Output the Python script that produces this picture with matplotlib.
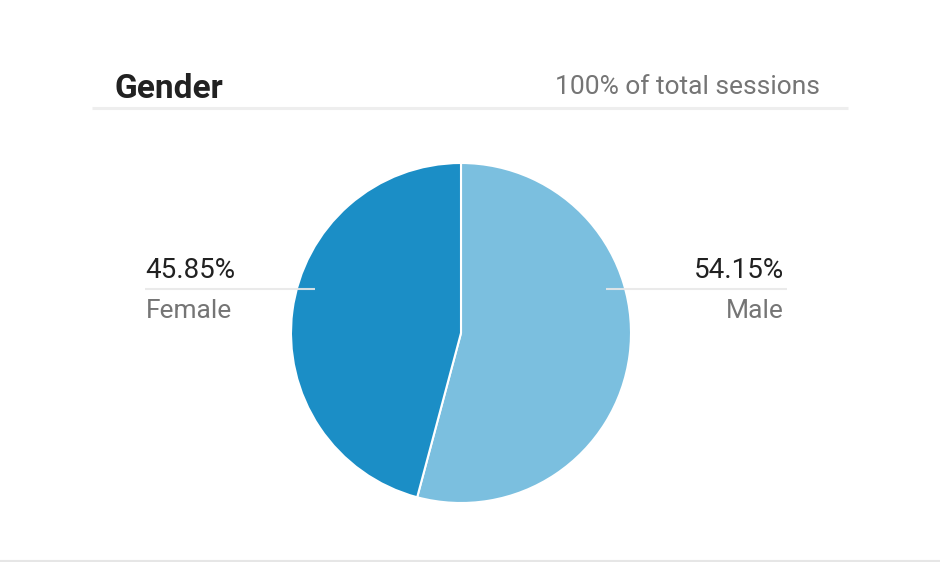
import matplotlib
matplotlib.use("Agg")
from matplotlib import pyplot as plt

# data
labels = ["Male", "Female"]
shares = [54.15, 45.85]
colors = ["#7bbfdf", "#1b8ec6"]
title = "Gender"
subtitle = "100% of total sessions"

W, H = 940, 562
plt.rcParams['font.family'] = ['Roboto', 'DejaVu Sans']

fig = plt.figure(figsize=(W / 100, H / 100), dpi=100)
fig.patch.set_facecolor("white")

# pie: centre (461, 333), radius 170 px
cx, cy, r = 461, 333, 170
ax = fig.add_axes([(cx - r) / W, (H - cy - r) / H, 2 * r / W, 2 * r / H])
ax.pie(shares, colors=colors, startangle=90, counterclock=False,
       wedgeprops=dict(edgecolor="white", linewidth=1.5))
ax.set_xlim(-1, 1)
ax.set_ylim(-1, 1)
ax.set_aspect("auto")
ax.set_zorder(1)

# overlay axes in pixel coordinates (y going down), drawn above the pie
bg = fig.add_axes([0, 0, 1, 1])
bg.set_xlim(0, W)
bg.set_ylim(H, 0)
bg.axis("off")
bg.set_zorder(2)

# header
bg.text(115, 98, title, fontsize=24, fontweight="bold", color="#212121", va="baseline", ha="left")
bg.text(820, 94, subtitle, fontsize=19, color="#757575", va="baseline", ha="right")
bg.plot([92, 848], [108, 108], color="#eeeeee", lw=2.2, solid_capstyle="butt")

# bottom rule
bg.plot([0, W], [560.5, 560.5], color="#e6e6e6", lw=1.5, solid_capstyle="butt")

# leader lines
bg.plot([145, 315], [289, 289], color="#e8e8e8", lw=1.5, solid_capstyle="butt", alpha=0.9)
bg.plot([606, 787], [289, 289], color="#e8e8e8", lw=1.5, solid_capstyle="butt", alpha=0.9)

bg.text(145, 278, "%.2f%%" % shares[1], fontsize=20, color="#212121", va="baseline", ha="left")
bg.text(146, 318, labels[1], fontsize=19, color="#757575", va="baseline", ha="left")
bg.text(784, 278, "%.2f%%" % shares[0], fontsize=20, color="#212121", va="baseline", ha="right")
bg.text(784, 318, labels[0], fontsize=19, color="#757575", va="baseline", ha="right")

fig.savefig("out.png", dpi=100, facecolor="white")
